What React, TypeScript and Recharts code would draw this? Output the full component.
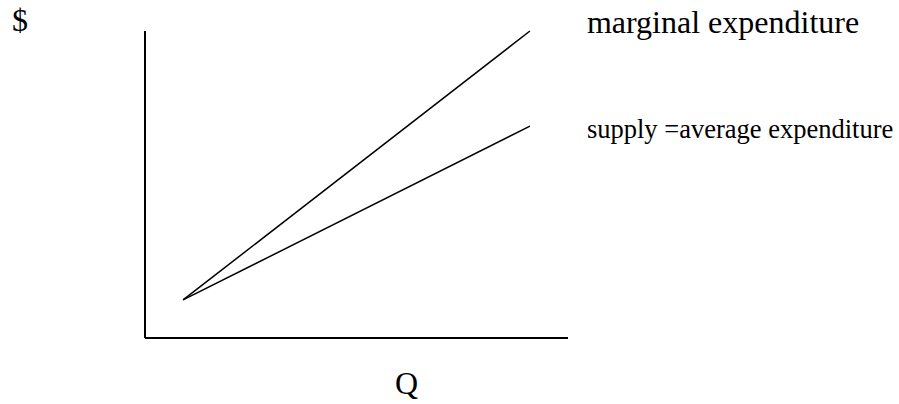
import React from 'react';
import { LineChart, Line, XAxis, YAxis, Label, LabelList } from 'recharts';

// quantity at the two ends of each curve
const quantities = [9, 91];
// marginal expenditure rises faster than the supply curve
const marginalExpenditure = [12.4, 100];
const averageExpenditure = [12.4, 69];

const seriesNames = ['marginal expenditure', 'supply =average expenditure'];

const chartData = quantities.map((q, i) => ({
  q,
  me: marginalExpenditure[i],
  ae: averageExpenditure[i],
}));

const FONT = '"Liberation Serif", "Times New Roman", serif';

// draws the series name just to the right of the curve's last point
const endLabel = (name: string, size: number, dy: number) => (props: any) => {
  const { x, y, index } = props;
  if (index !== quantities.length - 1) return null;
  return (
    <text x={x + 57} y={y + dy} fontFamily={FONT} fontSize={size} fill="#000">
      {name}
    </text>
  );
};

export default function App() {
  return (
    <div style={{ position: 'absolute', left: 0, top: 0, width: 899, height: 404, background: '#fff' }}>
      <LineChart
        width={899}
        height={404}
        data={chartData}
        margin={{ top: 31, right: 331, left: 144, bottom: 65 }}
      >
        <XAxis
          dataKey="q"
          type="number"
          domain={[0, 100]}
          height={1}
          tick={false}
          tickLine={false}
          axisLine={{ stroke: '#000', strokeWidth: 2 }}
        >
          <Label
            content={() => (
              <text x={395} y={394} fontFamily={FONT} fontSize={32} fill="#000">Q</text>
            )}
          />
        </XAxis>
        <YAxis
          type="number"
          domain={[0, 100]}
          width={1}
          tick={false}
          tickLine={false}
          axisLine={{ stroke: '#000', strokeWidth: 2 }}
        >
          <Label
            content={() => (
              <text x={12} y={31} fontFamily={FONT} fontSize={32} fill="#000">$</text>
            )}
          />
        </YAxis>
        <Line
          dataKey="me"
          type="linear"
          stroke="#000"
          strokeWidth={1.5}
          dot={false}
          isAnimationActive={false}
        >
          <LabelList dataKey="me" content={endLabel(seriesNames[0], 32, 2)} />
        </Line>
        <Line
          dataKey="ae"
          type="linear"
          stroke="#000"
          strokeWidth={1.5}
          dot={false}
          isAnimationActive={false}
        >
          <LabelList dataKey="ae" content={endLabel(seriesNames[1], 26.5, 12)} />
        </Line>
      </LineChart>
    </div>
  );
}
